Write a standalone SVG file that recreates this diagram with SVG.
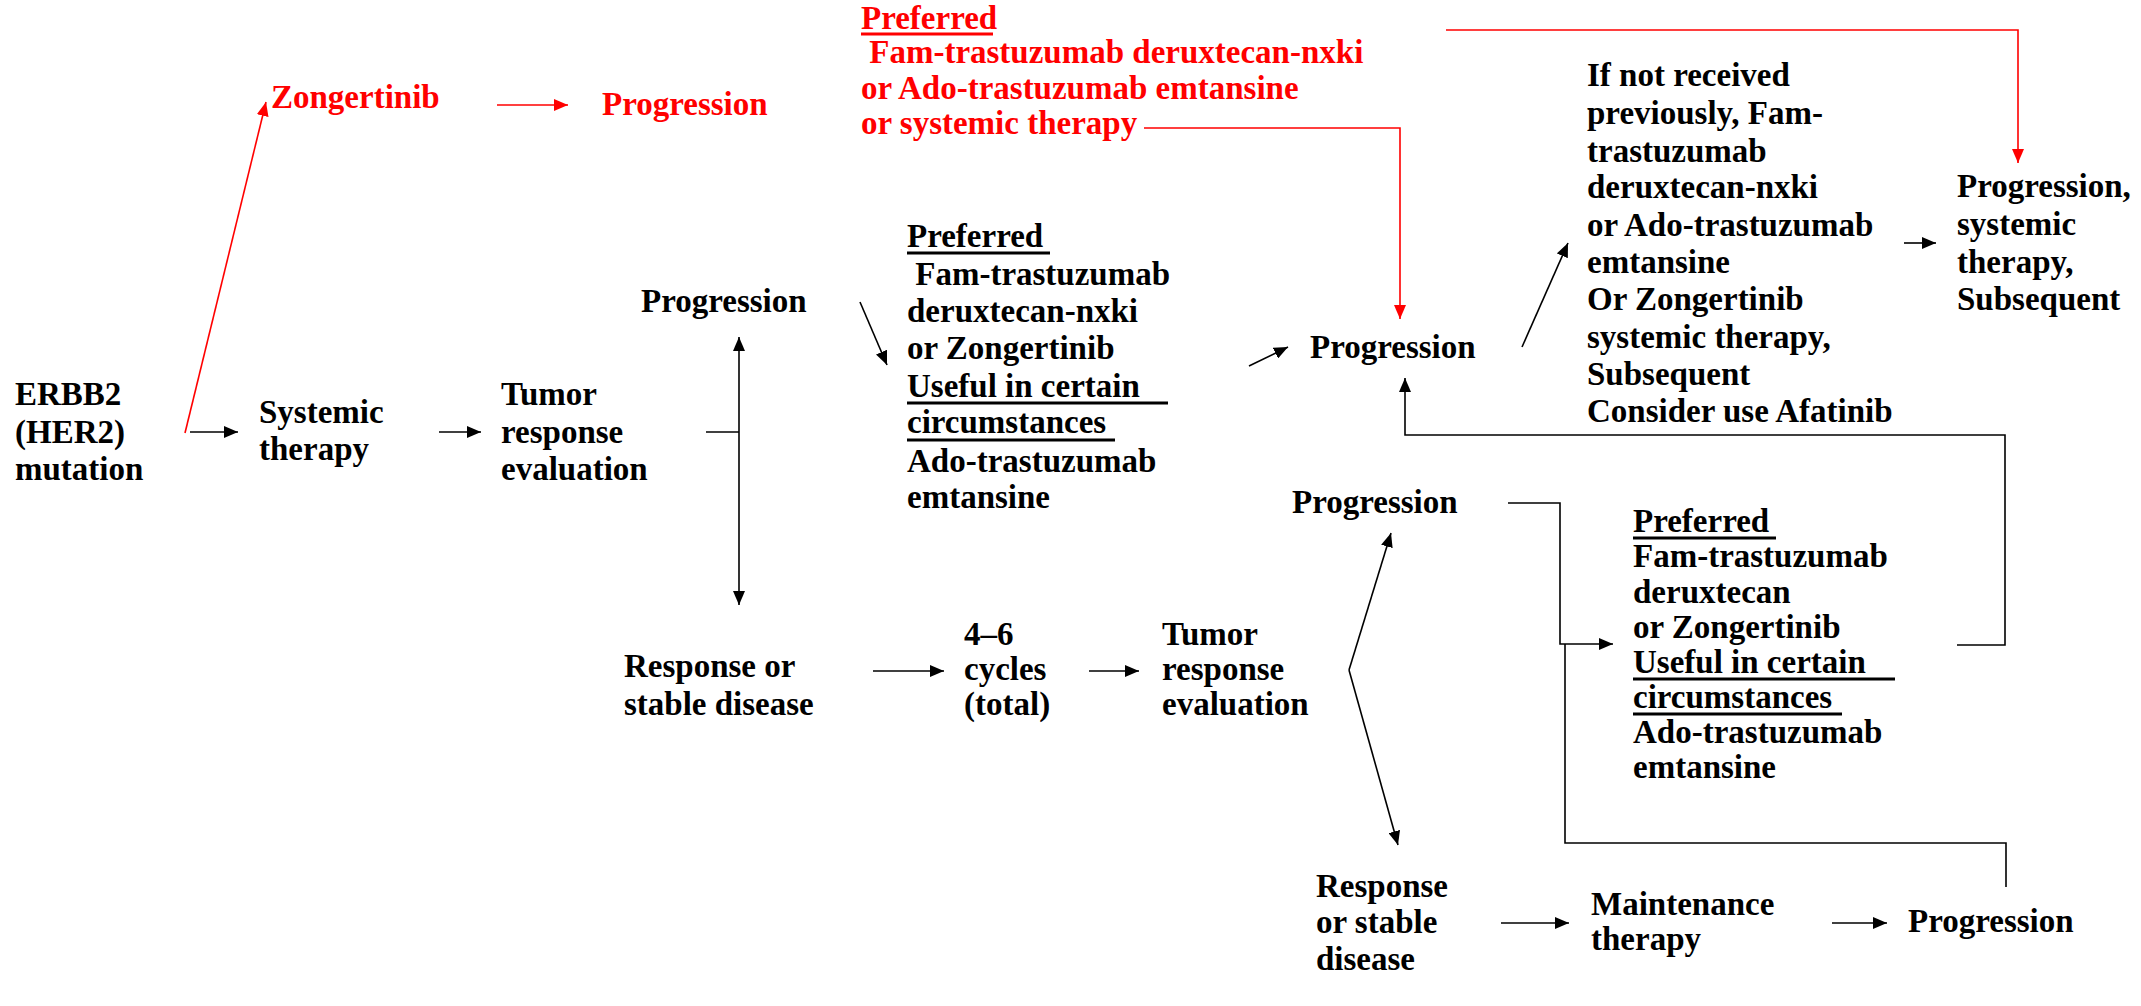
<svg xmlns="http://www.w3.org/2000/svg" width="2141" height="1006" viewBox="0 0 2141 1006">
  <style>
    text { font-family: "Liberation Serif", "Times New Roman", serif; font-weight: bold; font-size: 33px; fill: #000; }
    .red text, text.red { fill: #ff0000; }
    .ln { fill: none; stroke: #000; stroke-width: 1.6; }
    .lr { fill: none; stroke: #ff0000; stroke-width: 1.6; }
    .ul { stroke: #000; stroke-width: 3; }
    .ulr { stroke: #ff0000; stroke-width: 3; }
  </style>
  <defs>
    <marker id="ah" markerUnits="userSpaceOnUse" markerWidth="15" markerHeight="12" refX="14" refY="6" orient="auto">
      <path d="M0,0 L14,6 L0,12 z" fill="#000"/>
    </marker>
    <marker id="ahr" markerUnits="userSpaceOnUse" markerWidth="15" markerHeight="12" refX="14" refY="6" orient="auto">
      <path d="M0,0 L14,6 L0,12 z" fill="#ff0000"/>
    </marker>
  </defs>
  <rect width="2141" height="1006" fill="#fff"/>

  <!-- connectors -->
  <g id="connectors">
    <path class="lr" d="M185,433 L266,102" marker-end="url(#ahr)"/>
    <path class="lr" d="M497,105 L568,105" marker-end="url(#ahr)"/>
    <path class="lr" d="M1144,128 L1400,128 L1400,319" marker-end="url(#ahr)"/>
    <path class="lr" d="M1446,30 L2018,30 L2018,163" marker-end="url(#ahr)"/>

    <path class="ln" d="M190,432 L238,432" marker-end="url(#ah)"/>
    <path class="ln" d="M439,432 L481,432" marker-end="url(#ah)"/>
    <path class="ln" d="M706,432 L739,432"/>
    <path class="ln" d="M739,432 L739,337" marker-end="url(#ah)"/>
    <path class="ln" d="M739,432 L739,605" marker-end="url(#ah)"/>
    <path class="ln" d="M860,302 L887,365" marker-end="url(#ah)"/>
    <path class="ln" d="M1249,366 L1288,347" marker-end="url(#ah)"/>
    <path class="ln" d="M1957,645 L2005,645 L2005,435 L1405,435 L1405,378" marker-end="url(#ah)"/>
    <path class="ln" d="M1522,347 L1568,243" marker-end="url(#ah)"/>
    <path class="ln" d="M1904,243 L1936,243" marker-end="url(#ah)"/>
    <path class="ln" d="M873,671 L944,671" marker-end="url(#ah)"/>
    <path class="ln" d="M1089,671 L1139,671" marker-end="url(#ah)"/>
    <path class="ln" d="M1349,670 L1391,533" marker-end="url(#ah)"/>
    <path class="ln" d="M1349,670 L1398,845" marker-end="url(#ah)"/>
    <path class="ln" d="M1508,503 L1560,503 L1560,644 L1613,644" marker-end="url(#ah)"/>
    <path class="ln" d="M1565,644 L1565,843 L2006,843 L2006,887"/>
    <path class="ln" d="M1501,923 L1569,923" marker-end="url(#ah)"/>
    <path class="ln" d="M1832,923 L1887,923" marker-end="url(#ah)"/>
  </g>

  <!-- nodes -->
  <g id="erbb2">
    <text x="15" y="405">ERBB2</text>
    <text x="15" y="443">(HER2)</text>
    <text x="15" y="480">mutation</text>
  </g>
  <g id="zongertinib" class="red">
    <text x="271" y="108">Zongertinib</text>
  </g>
  <g id="progression-red" class="red">
    <text x="602" y="115">Progression</text>
  </g>
  <g id="systemic-therapy">
    <text x="259" y="423">Systemic</text>
    <text x="259" y="460">therapy</text>
  </g>
  <g id="tumor-eval-1">
    <text x="501" y="405">Tumor</text>
    <text x="501" y="443">response</text>
    <text x="501" y="480">evaluation</text>
  </g>
  <g id="progression-1">
    <text x="641" y="312">Progression</text>
  </g>
  <g id="response-1">
    <text x="624" y="677">Response or</text>
    <text x="624" y="715">stable disease</text>
  </g>
  <g id="red-options" class="red">
    <text x="861" y="29">Preferred</text>
    <line class="ulr" x1="861" y1="34" x2="993" y2="34"/>
    <text x="861" y="63" xml:space="preserve"> Fam-trastuzumab deruxtecan-nxki</text>
    <text x="861" y="99">or Ado-trastuzumab emtansine</text>
    <text x="861" y="134">or systemic therapy</text>
  </g>
  <g id="second-line-1">
    <text x="907" y="247">Preferred</text>
    <line class="ul" x1="907" y1="253" x2="1050" y2="253"/>
    <text x="907" y="285" xml:space="preserve"> Fam-trastuzumab</text>
    <text x="907" y="322">deruxtecan-nxki</text>
    <text x="907" y="359">or Zongertinib</text>
    <text x="907" y="397" xml:space="preserve">Useful in certain </text>
    <line class="ul" x1="907" y1="403" x2="1168" y2="403"/>
    <text x="907" y="433">circumstances</text>
    <line class="ul" x1="907" y1="440" x2="1115" y2="440"/>
    <text x="907" y="472">Ado-trastuzumab</text>
    <text x="907" y="508">emtansine</text>
  </g>
  <g id="progression-2">
    <text x="1310" y="358">Progression</text>
  </g>
  <g id="third-line">
    <text x="1587" y="86">If not received</text>
    <text x="1587" y="124">previously, Fam-</text>
    <text x="1587" y="162">trastuzumab</text>
    <text x="1587" y="198">deruxtecan-nxki</text>
    <text x="1587" y="236">or Ado-trastuzumab</text>
    <text x="1587" y="273">emtansine</text>
    <text x="1587" y="310">Or Zongertinib</text>
    <text x="1587" y="348">systemic therapy,</text>
    <text x="1587" y="385">Subsequent</text>
    <text x="1587" y="422">Consider use Afatinib</text>
  </g>
  <g id="progression-subsequent">
    <text x="1957" y="197">Progression,</text>
    <text x="1957" y="235">systemic</text>
    <text x="1957" y="273">therapy,</text>
    <text x="1957" y="310">Subsequent</text>
  </g>
  <g id="cycles">
    <text x="964" y="645">4–6</text>
    <text x="964" y="680">cycles</text>
    <text x="964" y="715">(total)</text>
  </g>
  <g id="tumor-eval-2">
    <text x="1162" y="645">Tumor</text>
    <text x="1162" y="680">response</text>
    <text x="1162" y="715">evaluation</text>
  </g>
  <g id="progression-3">
    <text x="1292" y="513">Progression</text>
  </g>
  <g id="second-line-2">
    <text x="1633" y="532">Preferred</text>
    <line class="ul" x1="1633" y1="538" x2="1776" y2="538"/>
    <text x="1633" y="567">Fam-trastuzumab</text>
    <text x="1633" y="603">deruxtecan</text>
    <text x="1633" y="638">or Zongertinib</text>
    <text x="1633" y="673" xml:space="preserve">Useful in certain </text>
    <line class="ul" x1="1633" y1="679" x2="1895" y2="679"/>
    <text x="1633" y="708">circumstances</text>
    <line class="ul" x1="1633" y1="714" x2="1842" y2="714"/>
    <text x="1633" y="743">Ado-trastuzumab</text>
    <text x="1633" y="778">emtansine</text>
  </g>
  <g id="response-2">
    <text x="1316" y="897">Response</text>
    <text x="1316" y="933">or stable</text>
    <text x="1316" y="970">disease</text>
  </g>
  <g id="maintenance">
    <text x="1591" y="915">Maintenance</text>
    <text x="1591" y="950">therapy</text>
  </g>
  <g id="progression-4">
    <text x="1908" y="932">Progression</text>
  </g>
</svg>
